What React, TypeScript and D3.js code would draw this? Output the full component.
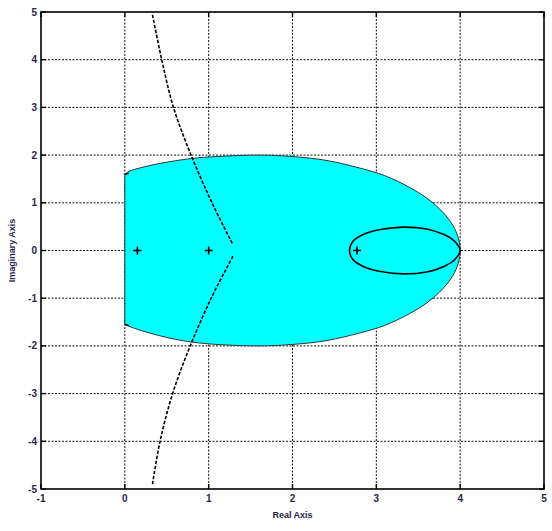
import React from 'react'
import * as d3 from 'd3'

const width = 552;
const height = 531;
const margin = {top: 12, right: 8, bottom: 42, left: 41};

const xTicks = [-1, 0, 1, 2, 3, 4, 5];
const yTicks = [-5, -4, -3, -2, -1, 0, 1, 2, 3, 4, 5];

// outline of the shaded region, clockwise from the top of the left edge
const regionOutline: [number, number][] = [
    [0, 1.6], [0.05, 1.66], [0.2, 1.74], [0.4, 1.82], [0.6, 1.88], [0.8, 1.93],
    [1.1, 1.97], [1.6, 2.0], [2.0, 1.97], [2.4, 1.89], [2.8, 1.73], [3.1, 1.57],
    [3.4, 1.32], [3.6, 1.1], [3.75, 0.88], [3.87, 0.64], [3.95, 0.4], [3.99, 0.18],
    [4.0, 0], [3.99, -0.18], [3.95, -0.4], [3.87, -0.64], [3.75, -0.88], [3.6, -1.1],
    [3.4, -1.32], [3.1, -1.57], [2.8, -1.73], [2.4, -1.89], [2.0, -1.97], [1.6, -2.0],
    [1.1, -1.97], [0.8, -1.92], [0.6, -1.86], [0.4, -1.78], [0.2, -1.68], [0.05, -1.59],
    [0, -1.55],
];

// small closed loop on the right
const innerLoop: [number, number][] = [
    [2.68, 0], [2.72, 0.19], [2.85, 0.34], [3.05, 0.44], [3.33, 0.49], [3.6, 0.45],
    [3.8, 0.34], [3.93, 0.2], [4.0, 0], [3.93, -0.2], [3.8, -0.34], [3.6, -0.45],
    [3.33, -0.49], [3.05, -0.44], [2.85, -0.34], [2.72, -0.19],
];

const locusUpper: [number, number][] = [
    [0.33, 4.94], [0.44, 4], [0.58, 3], [0.79, 2], [1.04, 1], [1.29, 0.12],
];
const locusLower: [number, number][] = [
    [1.29, -0.12], [1.03, -1], [0.78, -2], [0.57, -3], [0.42, -4], [0.33, -4.9],
];

const poles: [number, number][] = [[0.15, 0], [1.0, 0], [2.77, 0]];

export default function App() {
    const x = d3.scaleLinear().domain([-1, 5]).range([margin.left, width - margin.right]);
    const y = d3.scaleLinear().domain([-5, 5]).range([height - margin.bottom, margin.top]);

    const line = d3.line<[number, number]>().x(d => x(d[0])).y(d => y(d[1]));
    const smooth = d3.line<[number, number]>().x(d => x(d[0])).y(d => y(d[1])).curve(d3.curveCatmullRom);
    const loop = d3.line<[number, number]>().x(d => x(d[0])).y(d => y(d[1])).curve(d3.curveCatmullRomClosed);

    const x0 = x.range()[0], x1 = x.range()[1];
    const y0 = y.range()[1], y1 = y.range()[0];
    const font = 'Liberation Sans, Arial, sans-serif';
    const labelColor = '#26264d';

    return (
        <svg width={width} height={height} style={{position: 'absolute', left: 0, top: 0, background: '#fff'}}>
            {/* grid */}
            <g stroke="#111" strokeWidth={1} strokeDasharray="2,1.5">
                {xTicks.slice(1, -1).map(t =>
                    <line key={'gx' + t} x1={x(t)} x2={x(t)} y1={y0} y2={y1}/>)}
                {yTicks.slice(1, -1).map(t =>
                    <line key={'gy' + t} x1={x0} x2={x1} y1={y(t)} y2={y(t)}/>)}
            </g>

            {/* shaded region */}
            <path d={smooth(regionOutline) + 'Z'} fill="#00ffff" stroke="#333" strokeWidth={1}/>

            {/* inner loop */}
            <path d={loop(innerLoop) ?? ''} fill="none" stroke="#000" strokeWidth={1.6}/>

            {/* locus branches */}
            <g fill="none" stroke="#000" strokeWidth={1.6} strokeDasharray="3.5,1.6" strokeLinejoin="round">
                <path d={smooth(locusUpper) ?? ''}/>
                <path d={smooth(locusLower) ?? ''}/>
            </g>

            {/* marks on the left edge */}
            <g stroke="#000" strokeWidth={1.5}>
                <line x1={x(0)} x2={x(0) + 4} y1={y(1.6)} y2={y(1.6) - 1}/>
                <line x1={x(0)} x2={x(0) + 4} y1={y(-1.55)} y2={y(-1.55) + 1}/>
            </g>

            {/* poles */}
            <g stroke="#000" strokeWidth={1.6}>
                {poles.map((p, i) => (
                    <g key={i}>
                        <line x1={x(p[0]) - 4} x2={x(p[0]) + 4} y1={y(p[1])} y2={y(p[1])}/>
                        <line x1={x(p[0])} x2={x(p[0])} y1={y(p[1]) - 4} y2={y(p[1]) + 4}/>
                    </g>
                ))}
            </g>

            {/* frame and ticks */}
            <rect x={x0} y={y0} width={x1 - x0} height={y1 - y0} fill="none" stroke="#000" strokeWidth={1.6}/>
            <g stroke="#000" strokeWidth={1.4}>
                {xTicks.map(t => (
                    <g key={'tx' + t}>
                        <line x1={x(t)} x2={x(t)} y1={y1} y2={y1 - 5}/>
                        <line x1={x(t)} x2={x(t)} y1={y0} y2={y0 + 5}/>
                    </g>
                ))}
                {yTicks.map(t => (
                    <g key={'ty' + t}>
                        <line x1={x0} x2={x0 + 5} y1={y(t)} y2={y(t)}/>
                        <line x1={x1} x2={x1 - 5} y1={y(t)} y2={y(t)}/>
                    </g>
                ))}
            </g>

            {/* tick labels */}
            <g fontFamily={font} fontSize={10} fontWeight="bold" fill={labelColor}>
                {xTicks.map(t =>
                    <text key={'lx' + t} x={x(t)} y={y1 + 13} textAnchor="middle">{t}</text>)}
                {yTicks.map(t =>
                    <text key={'ly' + t} x={x0 - 4} y={y(t) + 3.5} textAnchor="end">{t}</text>)}
            </g>

            {/* axis titles */}
            <text x={(x0 + x1) / 2} y={y1 + 29} textAnchor="middle" fontFamily={font} fontSize={9}
                  fontWeight="bold" fill={labelColor}>Real  Axis</text>
            <text transform={`translate(15,${(y0 + y1) / 2}) rotate(-90)`} textAnchor="middle" fontFamily={font}
                  fontSize={9} fontWeight="bold" fill={labelColor}>Imaginary  Axis</text>
        </svg>
    );
}
